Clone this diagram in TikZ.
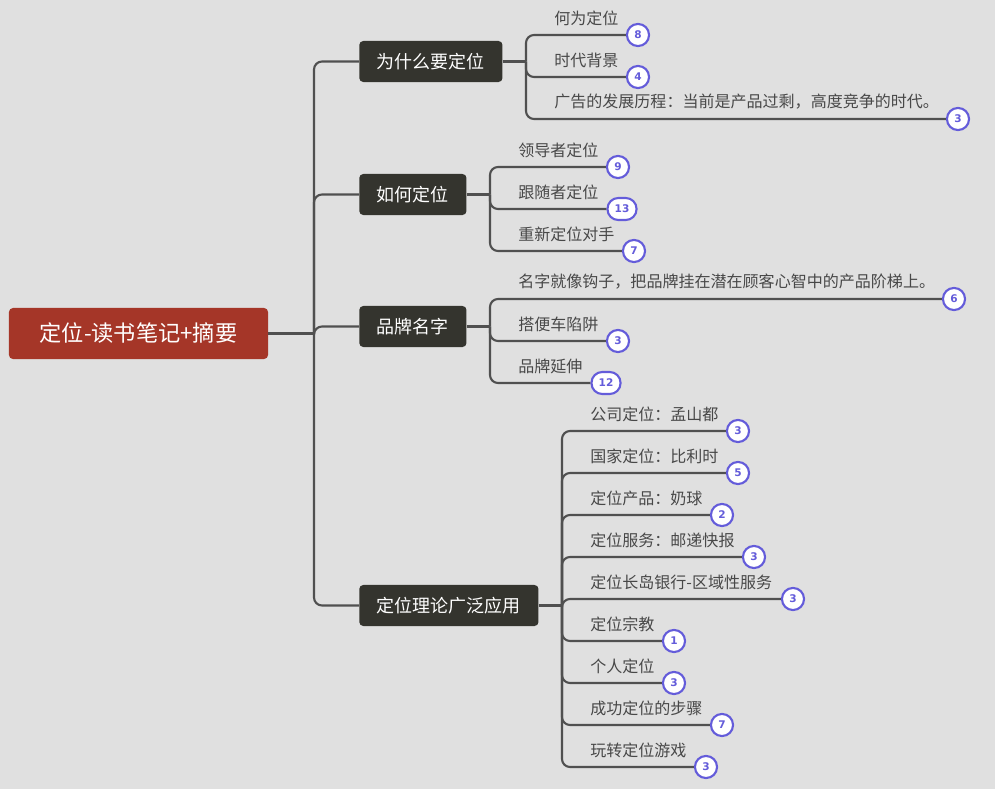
\documentclass[tikz,border=0pt]{standalone}
\usepackage{fontspec}
\newfontfamily\cjk{Noto Sans CJK SC}
\newfontfamily\numfont{DejaVu Sans}
\definecolor{Canvas}{RGB}{224,224,224}
\definecolor{Root}{RGB}{165,54,40}
\definecolor{Topic}{RGB}{52,52,46}
\definecolor{Wire}{RGB}{80,80,80}
\definecolor{Ink}{RGB}{72,72,72}
\definecolor{Mark}{RGB}{100,92,218}
\usetikzlibrary{positioning}

\begin{document}
\begin{tikzpicture}[x=0.025cm,y=-0.025cm,
  rootbox/.style={fill=Root,rounded corners=0.1cm,minimum width=6.475cm,minimum height=1.275cm,
    text=white,font=\cjk\fontsize{15.8}{18}\selectfont},
  topic/.style={fill=Topic,rounded corners=0.1cm,minimum height=1.025cm,inner xsep=0.44cm,
    text=white,font=\cjk\fontsize{12.8}{15}\selectfont,anchor=west},
  leaf/.style={text=Ink,font=\cjk\fontsize{11.4}{13}\selectfont,anchor=west,inner sep=0pt},
  badge/.style={draw=Mark,line width=1.5pt,fill=white,text=Mark,
    font=\numfont\bfseries\fontsize{7.5}{9}\selectfont,rounded corners=0.27cm,
    minimum size=0.55cm,inner xsep=0.18cm,inner ysep=0pt},
  link/.style={draw=Wire,line width=1.5pt}]
  \fill[Canvas] (0,0) rectangle (995,789);
  \useasboundingbox (0,0) rectangle (995,789);

  % root and trunk
  \node[rootbox] (root) at (138.5,333.5) {定位-读书笔记+摘要};
  \coordinate (hub) at (314,333.5);
  \draw[link] (root.east) -- (hub);
  \node[topic] (why) at (359,61.5) {为什么要定位};
  \node[topic] (how) at (359,194.5) {如何定位};
  \node[topic] (brand) at (359,326.5) {品牌名字};
  \node[topic] (use) at (359,605.5) {定位理论广泛应用};
  \foreach \t in {why,how,brand,use}
    \draw[link,rounded corners=0.2cm] (hub) |- (\t.west);

  % 为什么要定位
  \coordinate (whyhub) at (526,61.5);
  \draw[link] (why.east) -- (whyhub);
  \foreach \n/\ty/\bx/\num/\txt in {w1/18/638/8/{何为定位},w2/60/638/4/{时代背景},
      w3/102/958/3/{广告的发展历程：当前是产品过剩，高度竞争的时代。}}{
    \node[leaf] (\n) at (554,\ty) {\txt};
    \node[badge] (b\n) at (\bx,\ty+17) {\num};
    \draw[link,rounded corners=0.2cm] (whyhub) |- (b\n.west);
  }

  % 如何定位
  \coordinate (howhub) at (490,194.5);
  \draw[link] (how.east) -- (howhub);
  \foreach \n/\ty/\bx/\num/\txt in {h1/150/618/9/{领导者定位},h2/192/622/13/{跟随者定位},
      h3/234/634/7/{重新定位对手}}{
    \node[leaf] (\n) at (518,\ty) {\txt};
    \node[badge] (b\n) at (\bx,\ty+17) {\num};
    \draw[link,rounded corners=0.2cm] (howhub) |- (b\n.west);
  }

  % 品牌名字
  \coordinate (brandhub) at (490,326.5);
  \draw[link] (brand.east) -- (brandhub);
  \foreach \n/\ty/\bx/\num/\txt in {n1/282/954/6/{名字就像钩子，把品牌挂在潜在顾客心智中的产品阶梯上。},
      n2/324/618/3/{搭便车陷阱},n3/366/606/12/{品牌延伸}}{
    \node[leaf] (\n) at (518,\ty) {\txt};
    \node[badge] (b\n) at (\bx,\ty+17) {\num};
    \draw[link,rounded corners=0.2cm] (brandhub) |- (b\n.west);
  }

  % 定位理论广泛应用
  \coordinate (usehub) at (562,605.5);
  \draw[link] (use.east) -- (usehub);
  \foreach \n/\ty/\bx/\num/\txt in {u1/414/738/3/{公司定位：孟山都},u2/456/738/5/{国家定位：比利时},
      u3/498/722/2/{定位产品：奶球},u4/540/754/3/{定位服务：邮递快报},
      u5/582/793/3/{定位长岛银行-区域性服务},u6/624/674/1/{定位宗教},
      u7/666/674/3/{个人定位},u8/708/722/7/{成功定位的步骤},u9/750/706/3/{玩转定位游戏}}{
    \node[leaf] (\n) at (590,\ty) {\txt};
    \node[badge] (b\n) at (\bx,\ty+17) {\num};
    \draw[link,rounded corners=0.2cm] (usehub) |- (b\n.west);
  }
\end{tikzpicture}
\end{document}
